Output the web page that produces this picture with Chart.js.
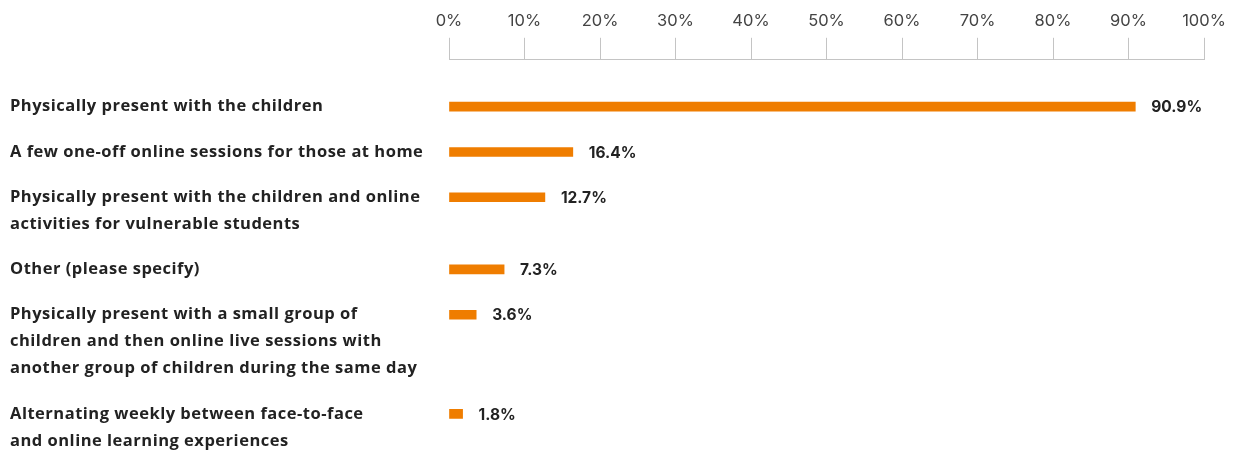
<!DOCTYPE html>
<html>
<head>
<meta charset="utf-8">
<script src="https://cdn.jsdelivr.net/npm/chart.js@4.4.1/dist/chart.umd.min.js"></script>
<style>
  html, body { margin: 0; padding: 0; background: #ffffff; }
  #wrap { width: 1236px; height: 450px; position: relative; }
</style>
</head>
<body>
<div id="wrap"><canvas id="teachingChart"></canvas></div>
<script>
// Respostas (uma linha por entrada do array interno)
const categories = [
  ['Physically present with the children'],
  ['A few one-off online sessions for those at home'],
  ['Physically present with the children and online', 'activities for vulnerable students'],
  ['Other (please specify)'],
  ['Physically present with a small group of', 'children and then online live sessions with', 'another group of children during the same day'],
  ['Alternating weekly between face-to-face', 'and online learning experiences']
];
const shares = [90.9, 16.4, 12.7, 7.3, 3.6, 1.8];
const xTicks = [0, 10, 20, 30, 40, 50, 60, 70, 80, 90, 100];

const BAR_COLOR = '#ef7d00';
const TEXT_COLOR = '#222222';
const LINE_GAP = 0.68; // espaço entre blocos, em linhas de texto
const LINE_PX = 27;

// posição vertical de cada barra: acumula as linhas de texto dos rótulos anteriores
const rowPos = [];
let acc = 0;
categories.forEach(lines => {
  rowPos.push(acc);
  acc += lines.length + LINE_GAP;
});

const points = shares.map((v, i) => ({ x: v, y: rowPos[i] }));

// Rótulos das categorias, alinhados à primeira linha de cada barra
const categoryLabels = {
  id: 'categoryLabels',
  afterDraw(chart) {
    const ctx = chart.ctx;
    const yScale = chart.scales.y;
    ctx.save();
    ctx.fillStyle = TEXT_COLOR;
    ctx.font = '700 16.5px "Open Sans", sans-serif';
    ctx.letterSpacing = '0.5px';
    ctx.textAlign = 'left';
    ctx.textBaseline = 'middle';
    categories.forEach((lines, i) => {
      const y0 = yScale.getPixelForValue(rowPos[i]);
      lines.forEach((line, k) => ctx.fillText(line, 10, y0 + k * LINE_PX));
    });
    ctx.restore();
  }
};

// Valor ao lado de cada barra
const valueLabels = {
  id: 'valueLabels',
  afterDatasetsDraw(chart) {
    const ctx = chart.ctx;
    const meta = chart.getDatasetMeta(0);
    ctx.save();
    ctx.fillStyle = TEXT_COLOR;
    ctx.font = '700 15.5px Inter, "Noto Sans", sans-serif';
    ctx.textAlign = 'left';
    ctx.textBaseline = 'middle';
    meta.data.forEach((bar, i) => {
      ctx.fillText(shares[i].toFixed(1) + '%', bar.x + 16, bar.y + 1);
    });
    ctx.restore();
  }
};

const ctx = document.getElementById('teachingChart').getContext('2d');
const teachingChart = new Chart(ctx, {
  type: 'bar',
  data: {
    datasets: [{
      data: points,
      backgroundColor: BAR_COLOR,
      borderWidth: 0,
      barThickness: 9
    }]
  },
  options: {
    indexAxis: 'y',
    responsive: true,
    maintainAspectRatio: false,
    animation: false,
    layout: { padding: { left: 449, right: 32, top: 4, bottom: 0 } },
    scales: {
      x: {
        type: 'linear',
        position: 'top',
        min: 0,
        max: 100,
        afterBuildTicks: (axis) => { axis.ticks = xTicks.map(v => ({ value: v })); },
        ticks: {
          padding: 7,
          color: '#444444',
          font: { family: 'Inter, "Noto Sans", sans-serif', size: 16.5, weight: '400' },
          callback: (v) => v + '%'
        },
        grid: {
          drawOnChartArea: false,
          drawTicks: true,
          tickLength: 22,
          color: '#c4c4c4',
          lineWidth: 1
        },
        border: { display: true, color: '#c4c4c4', width: 1 }
      },
      y: {
        type: 'linear',
        display: false,
        offset: false,
        reverse: true,
        min: -1.74,
        max: 12.74
      }
    },
    plugins: {
      legend: { display: false },
      tooltip: { enabled: false }
    }
  },
  plugins: [categoryLabels, valueLabels]
});
</script>
</body>
</html>
